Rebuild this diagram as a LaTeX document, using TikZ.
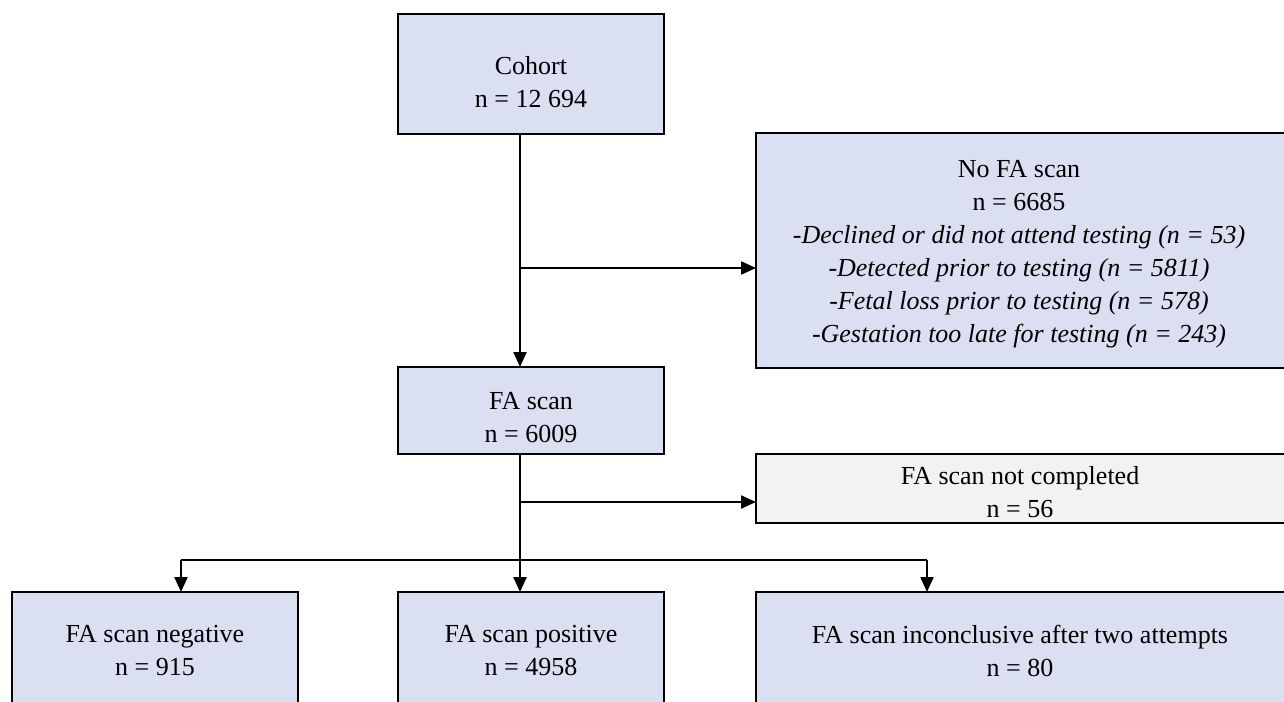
\documentclass[tikz,border=0pt]{standalone}
\usepackage{fontspec}
\setmainfont{Liberation Serif}
\usetikzlibrary{arrows.meta}
\definecolor{boxblue}{HTML}{DAE0F2}
\definecolor{boxgray}{HTML}{F2F2F2}
\tikzset{
  box/.style={draw=black, line width=2.2pt, fill=boxblue, inner sep=0pt, outer sep=0pt},
  graybox/.style={box, fill=boxgray},
  txt/.style={align=center, font=\fontsize{26}{33}\selectfont, inner sep=0pt},
  arr/.style={line width=2.2pt, -{Triangle[length=15pt,width=13pt]}},
  ln/.style={line width=2.2pt}
}
\begin{document}
\begin{tikzpicture}[x=1pt,y=-1pt]
\useasboundingbox (0,0) rectangle (1284,701);
\clip (0,0) rectangle (1284,701);
% boxes
\node[box, minimum width=266pt, minimum height=120pt] (cohort) at (531,74) {};
\node[box, minimum width=540pt, minimum height=235pt] (nofa) at (1026,250.5) {};
\node[box, minimum width=266pt, minimum height=87pt] (fa) at (531,410.5) {};
\node[graybox, minimum width=540pt, minimum height=69pt] (nfc) at (1026,488.5) {};
\node[box, minimum width=286pt, minimum height=120pt] (neg) at (155,652) {};
\node[box, minimum width=266pt, minimum height=120pt] (pos) at (531,652) {};
\node[box, minimum width=540pt, minimum height=120pt] (inc) at (1026,652) {};
% texts
\node[txt] (cohort-t) at (531,82) {Cohort\\n = 12 694};
\node[txt] (nofa-t) at (1019,254) {No FA scan\\n = 6685\\\textit{-Declined or did not attend testing (n = 53)}\\\textit{-Detected prior to testing (n = 5811)}\\\textit{-Fetal loss prior to testing (n = 578)}\\\textit{-Gestation too late for testing (n = 243)}};
\node[txt] (fa-t) at (531,418) {FA scan\\n = 6009};
\node[txt] (nfc-t) at (1020,492) {FA scan not completed\\n = 56};
\node[txt] (neg-t) at (155,651) {FA scan negative\\n = 915};
\node[txt] (pos-t) at (531,651) {FA scan positive\\n = 4958};
\node[txt] (inc-t) at (1020,651) {FA scan inconclusive after two attempts\\n = 80};
% connectors
\coordinate (c1) at (520,268);
\coordinate (c2) at (520,502);
\coordinate (c3) at (520,560);
\coordinate (l3) at (181,560);
\coordinate (r3) at (927,560);
\draw[arr] (cohort.south -| c1) -- (fa.north -| c1);
\draw[arr] (c1) -- (c1 -| nofa.west);
\draw[arr] (fa.south -| c2) -- (pos.north -| c2);
\draw[arr] (c2) -- (c2 -| nfc.west);
\draw[ln] (l3) -- (r3);
\draw[arr] (l3) -- (l3 |- neg.north);
\draw[arr] (r3) -- (r3 |- inc.north);
\end{tikzpicture}
\end{document}
